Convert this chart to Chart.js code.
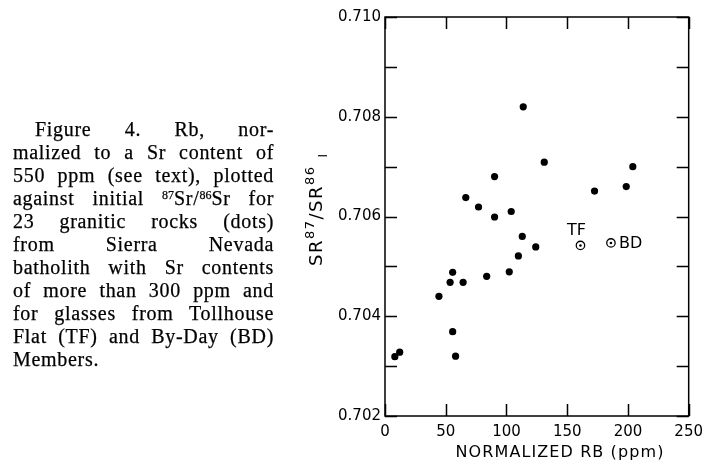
<!DOCTYPE html>
<html>
<head>
<meta charset="utf-8">
<script src="https://cdn.jsdelivr.net/npm/chart.js@4.4.1/dist/chart.umd.min.js"></script>
<style>
  html, body { margin: 0; padding: 0; background: #fff; }
  #wrap { position: relative; width: 710px; height: 466px; overflow: hidden; }
  #c { position: absolute; left: 0; top: 0; }
  #caption { position: absolute; left: 13px; top: 118px; width: 261px;
    font-family: "Liberation Serif", "DejaVu Serif", serif; font-size: 20px; line-height: 23px;
    letter-spacing: 0.7px; color: #000; -webkit-text-stroke: 0.25px #000; }
  #caption div { text-align: justify; text-align-last: justify; white-space: nowrap; }
  #caption div.last { text-align-last: left; }
  #caption div.first { padding-left: 22px; }
  #caption sup { font-size: 12px; vertical-align: 6px; line-height: 0; letter-spacing: 0; }
</style>
</head>
<body>
<div id="wrap">
  <canvas id="c" width="710" height="466"></canvas>
  <div id="caption">
    <div class="first">Figure 4. Rb, nor-</div>
    <div>malized to a Sr content of</div>
    <div>550 ppm (see text), plotted</div>
    <div>against initial <sup>87</sup>Sr/<sup>86</sup>Sr for</div>
    <div>23 granitic rocks (dots)</div>
    <div>from Sierra Nevada</div>
    <div>batholith with Sr contents</div>
    <div>of more than 300 ppm and</div>
    <div>for glasses from Tollhouse</div>
    <div>Flat (TF) and By-Day (BD)</div>
    <div class="last">Members.</div>
  </div>
</div>
<script>
// Granitic rocks (dots): normalized Rb (ppm) vs initial 87Sr/86Sr
const rbDots = [8.1, 12.1, 44.4, 53.6, 55.7, 55.7, 58.1, 64.3, 66.5, 77.0, 83.7, 90.2, 90.2,
                102.3, 103.9, 109.8, 113.0, 113.8, 124.1, 131.1, 172.5, 198.6, 204.0];
const srDots = [0.70319, 0.70328, 0.70440, 0.70468, 0.70488, 0.70369, 0.70320, 0.70468, 0.70638,
                0.70619, 0.70480, 0.70680, 0.70599, 0.70489, 0.70610, 0.70521, 0.70560, 0.70820,
                0.70539, 0.70709, 0.70651, 0.70660, 0.70700];
// Glasses (open circles)
const glassLabels = ['TF', 'BD'];
const rbGlass = [160.9, 186.0];
const srGlass = [0.70542, 0.70547];
// Axes
const xTicks = [0, 50, 100, 150, 200, 250];
const yTicks = [0.702, 0.704, 0.706, 0.708, 0.710];
const yMinorTicks = [0.702, 0.703, 0.704, 0.705, 0.706, 0.707, 0.708, 0.709, 0.710];
const xTitle = 'NORMALIZED RB (ppm)';

const INK = '#000';
const tickFont = { family: 'DejaVu Sans', size: 15 };

const framePlugin = {
  id: 'frame',
  afterDatasetsDraw(chart) {
    const { ctx, chartArea: a, scales: { x, y } } = chart;
    ctx.save();
    ctx.strokeStyle = INK;
    ctx.lineWidth = 1.5;
    ctx.strokeRect(a.left, a.top, a.right - a.left, a.bottom - a.top);
    const L = 12;
    ctx.beginPath();
    yMinorTicks.forEach(v => {
      const py = Math.round(y.getPixelForValue(v)) + 0.5;
      ctx.moveTo(a.left, py); ctx.lineTo(a.left + L, py);
      ctx.moveTo(a.right, py); ctx.lineTo(a.right - L, py);
    });
    xTicks.forEach(v => {
      const px = Math.round(x.getPixelForValue(v)) + 0.5;
      ctx.moveTo(px, a.top); ctx.lineTo(px, a.top + L);
      ctx.moveTo(px, a.bottom); ctx.lineTo(px, a.bottom - L);
    });
    ctx.stroke();

    // center dots for glass symbols and their labels
    const meta = chart.getDatasetMeta(1);
    ctx.fillStyle = INK;
    ctx.font = '16px "DejaVu Sans"';
    meta.data.forEach((pt, i) => {
      ctx.beginPath();
      ctx.arc(pt.x, pt.y, 1.3, 0, Math.PI * 2);
      ctx.fill();
      const lab = glassLabels[i];
      if (i === 0) {
        ctx.textAlign = 'center'; ctx.textBaseline = 'middle';
        ctx.fillText(lab, pt.x - 4, pt.y - 15);
      } else {
        ctx.textAlign = 'left'; ctx.textBaseline = 'middle';
        ctx.fillText(lab, pt.x + 8, pt.y + 1);
      }
    });

    // x axis title
    ctx.textAlign = 'center'; ctx.textBaseline = 'middle';
    ctx.font = '16px "DejaVu Sans"';
    ctx.letterSpacing = '1.1px';
    ctx.fillText(xTitle, 560, 453);
    ctx.letterSpacing = '0px';

    // y axis title with super/subscripts
    ctx.translate(322, 266);
    ctx.rotate(-Math.PI / 2);
    ctx.textAlign = 'left'; ctx.textBaseline = 'alphabetic';
    let cx = 0;
    const part = (t, size, dy, gap) => {
      ctx.font = size + 'px "DejaVu Sans"';
      ctx.letterSpacing = '1.5px';
      ctx.fillText(t, cx, dy);
      cx += ctx.measureText(t).width + (gap || 0);
    };
    part('SR', 18, 0);
    part('87', 13, -8);
    part('/SR', 18, 0);
    part('86', 13, -8, 8);
    part('I', 12, 5);
    ctx.restore();
  }
};

new Chart(document.getElementById('c'), {
  type: 'scatter',
  data: {
    datasets: [
      {
        label: 'granitic rocks',
        data: rbDots.map((v, i) => ({ x: v, y: srDots[i] })),
        pointRadius: 3.6,
        pointBackgroundColor: INK,
        pointBorderWidth: 0,
        pointStyle: 'circle'
      },
      {
        label: 'glasses',
        data: rbGlass.map((v, i) => ({ x: v, y: srGlass[i] })),
        pointRadius: 4.2,
        pointBackgroundColor: '#fff',
        pointBorderColor: INK,
        pointBorderWidth: 1.3,
        pointStyle: 'circle'
      }
    ]
  },
  options: {
    responsive: false,
    animation: false,
    events: [],
    layout: { padding: { left: 290, right: 15, top: 17, bottom: 0 } },
    plugins: { legend: { display: false }, tooltip: { enabled: false } },
    scales: {
      x: {
        type: 'linear', min: 0, max: 250,
        afterFit(s) { s.height = 50; },
        afterBuildTicks(s) { s.ticks = xTicks.map(v => ({ value: v })); },
        grid: { display: false, drawTicks: false },
        border: { display: false },
        ticks: { color: INK, font: tickFont, padding: 7, maxRotation: 0,
                 callback: v => String(v) }
      },
      y: {
        type: 'linear', min: 0.702, max: 0.710,
        afterFit(s) { s.width = 95; },
        afterBuildTicks(s) { s.ticks = yTicks.map(v => ({ value: v })); },
        grid: { display: false, drawTicks: false },
        border: { display: false },
        ticks: { color: INK, font: tickFont, padding: 4,
                 callback: v => Number(v).toFixed(3) }
      }
    }
  },
  plugins: [framePlugin]
});
</script>
</body>
</html>
